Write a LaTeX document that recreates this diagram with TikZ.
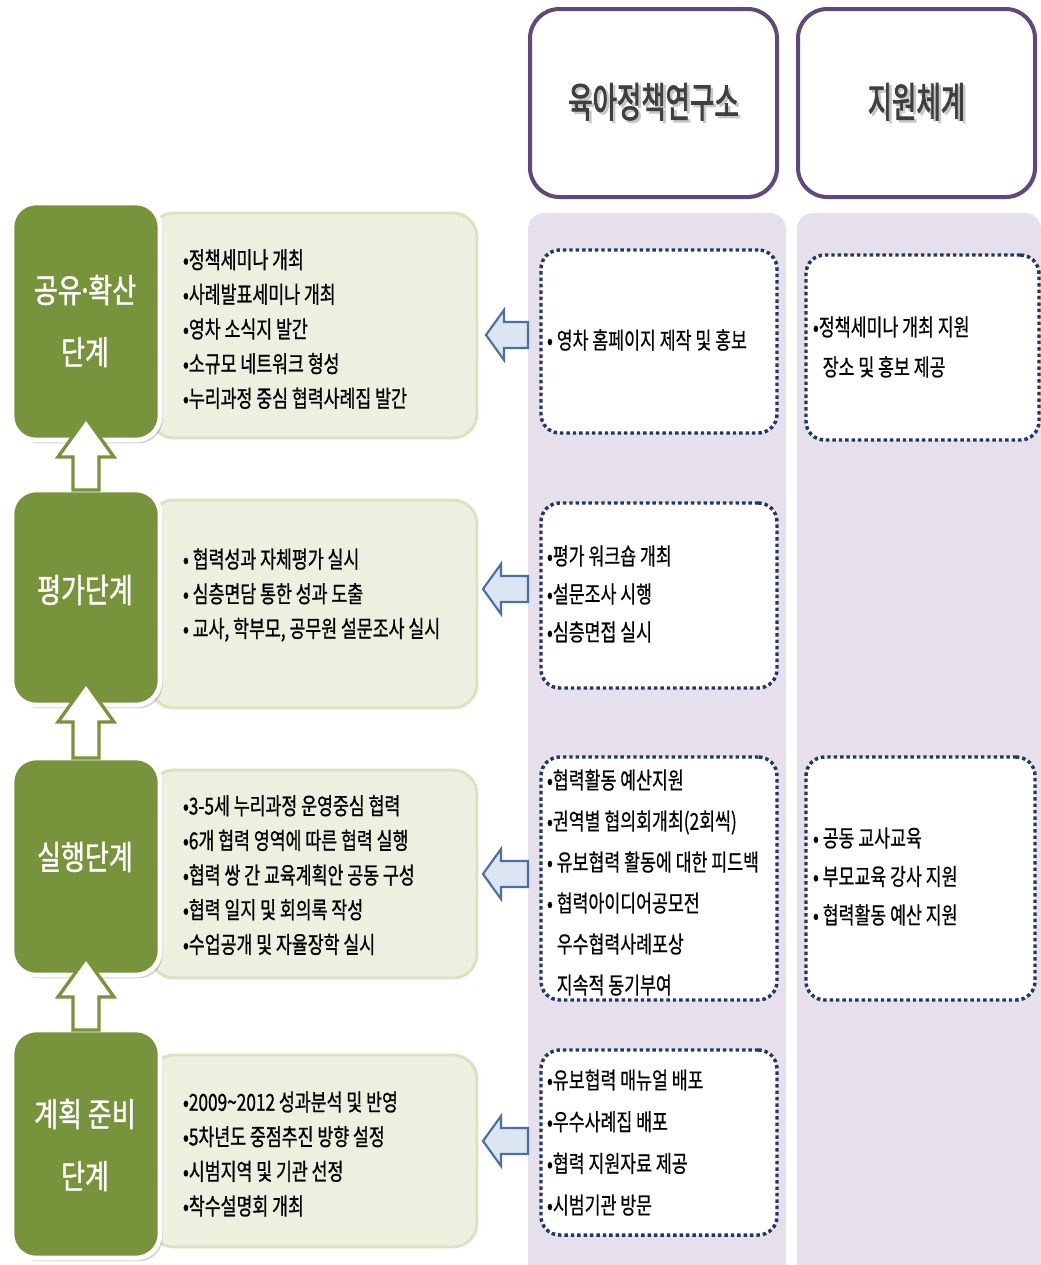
\documentclass[tikz,border=0pt]{standalone}
\usepackage{fontspec}
\setmainfont{Noto Sans CJK KR}
\newfontfamily\krItem[FakeStretch=0.74,FakeBold=0.9]{Noto Sans CJK KR}
\newfontfamily\krDot[FakeStretch=0.74,FakeBold=0.6]{Noto Sans CJK KR}
\newfontfamily\krStage[FakeStretch=0.78,FakeBold=1.2]{Noto Sans CJK KR}
\newfontfamily\krHead[FakeStretch=0.64,FakeBold=2]{Noto Sans CJK KR}
\usetikzlibrary{shadows,calc}
\definecolor{stagegreen}{HTML}{77933C}
\definecolor{lightgreen}{HTML}{EBF1DE}
\definecolor{lightgreenline}{HTML}{D7E4BD}
\definecolor{lavender}{HTML}{E5E0EC}
\definecolor{headpurple}{HTML}{5F497A}
\definecolor{dotnavy}{HTML}{1F3864}
\definecolor{arrowfill}{HTML}{DCE6F2}
\definecolor{arrowline}{HTML}{4A6FA0}
\definecolor{headtext}{HTML}{3F3F3F}
\newcommand{\shadowed}[1]{\makebox[0pt][l]{\hspace{1.9pt}\raisebox{-1.9pt}{\textcolor{black!22}{#1}}}#1}
\begin{document}
\begin{tikzpicture}[x=0.75pt,y=-0.75pt,
  every node/.style={inner sep=0pt,outer sep=0pt},
  colbox/.style={fill=lavender,rounded corners=12pt,minimum width=#1,minimum height=815.25pt},
  headbox/.style={draw=headpurple,line width=3pt,fill=white,rounded corners=22pt,
    minimum width=#1,minimum height=141pt,
    drop shadow={shadow xshift=1.5pt,shadow yshift=-1.5pt,opacity=0.25}},
  headtxt/.style={font=\krHead\fontsize{31}{36}\selectfont,text=headtext},
  greenbox/.style={fill=lightgreen,draw=lightgreenline,line width=2.2pt,rounded corners=18pt,
    minimum width=245.25pt,minimum height=#1},
  stagebox/.style={fill=stagegreen,draw=white,line width=3.5pt,rounded corners=18pt,
    minimum width=111pt,minimum height=#1,
    drop shadow={shadow xshift=2pt,shadow yshift=-2.5pt,opacity=0.35}},
  stagetext/.style={align=center,text=white,font=\krStage\fontsize{25}{46.5}\selectfont},
  dotbox/.style 2 args={fill=white,draw=dotnavy,line width=2.6pt,dash pattern=on 2.6pt off 2.2pt,
    rounded corners=14pt,minimum width=#1,minimum height=#2},
  itemtext/.style={align=left,anchor=west,text=black,font=\krItem\fontsize{17.5}{26}\selectfont},
  dottext/.style={align=left,anchor=west,text=black,font=\krDot\fontsize{17.5}{#1}\selectfont},
  uparrow/.style={draw=stagegreen,fill=white,line width=2.5pt,line join=miter},
  leftarrow/.style={draw=arrowline,fill=arrowfill,line width=1.6pt,line join=miter}
]
\useasboundingbox (0,0) rectangle (1041,1265);
\clip (0,0) rectangle (1041,1265);

% column backgrounds
\node[colbox=193.5pt] (c1) at (657,756.5) {};
\node[colbox=183pt] (c2) at (919,756.5) {};

% headers
\node[headbox=185.25pt] (h1) at (653.5,103) {};
\node[headbox=177.75pt] (h2) at (916.5,103) {};
\node[headtxt] (h1t) at (h1) {\shadowed{육아정책연구소}};
\node[headtxt] (h2t) at (h2) {\shadowed{지원체계}};

% light green content boxes
\node[greenbox=168.75pt] (g1) at (313.5,325.5) {};
\node[greenbox=156pt] (g2) at (313.5,604) {};
\node[greenbox=156pt] (g3) at (313.5,874) {};
\node[greenbox=144pt] (g4) at (313.5,1151) {};

% stage boxes
\node[stagebox=177.75pt] (s1) at (86,321.5) {};
\node[stagebox=161.25pt] (s2) at (86,597.5) {};
\node[stagebox=162.75pt] (s3) at (86,866.5) {};
\node[stagebox=171pt] (s4) at (86,1144) {};

\node[stagetext] (s1t) at (85,321) {공유\kern-0.12em·\kern-0.12em확산\\단계};
\node[stagetext] (s2t) at (85,590) {평가단계};
\node[stagetext] (s3t) at (85,857) {실행단계};
\node[stagetext] (s4t) at (85,1145) {계획 준비\\단계};

% up arrows between stages
\coordinate (u1) at ($(s2.north)+(0,-72)$);
\coordinate (u2) at ($(s3.north)+(0,-75)$);
\coordinate (u3) at ($(s4.north)+(0,-72)$);
\draw[uparrow] (u1) -- ++(28,39) -- ++(-15,0) -- ($(s2.north)+(13,0)$) -- ($(s2.north)+(-13,0)$) -- ($(u1)+(-13,39)$) -- ++(-15,0) -- cycle;
\draw[uparrow] (u2) -- ++(28,39) -- ++(-15,0) -- ($(s3.north)+(13,0)$) -- ($(s3.north)+(-13,0)$) -- ($(u2)+(-13,39)$) -- ++(-15,0) -- cycle;
\draw[uparrow] (u3) -- ++(28,39) -- ++(-15,0) -- ($(s4.north)+(13,0)$) -- ($(s4.north)+(-13,0)$) -- ($(u3)+(-13,39)$) -- ++(-15,0) -- cycle;

% green box texts
\node[itemtext] (g1t) at (183,329) {•정책세미나 개최\\•사례발표세미나 개최\\•영차 소식지 발간\\•소규모 네트워크 형성\\•누리과정 중심 협력사례집 발간};
\node[itemtext] (g2t) at (183,595) {• 협력성과 자체평가 실시\\• 심층면담 통한 성과 도출\\• 교사, 학부모, 공무원 설문조사 실시};
\node[itemtext] (g3t) at (183,875) {•3-5세 누리과정 운영중심 협력\\•6개 협력 영역에 따른 협력 실행\\•협력 쌍 간 교육계획안 공동 구성\\•협력 일지 및 회의록 작성\\•수업공개 및 자율장학 실시};
\node[itemtext] (g4t) at (183,1154) {•2009\textasciitilde2012 성과분석 및 반영\\•5차년도 중점추진 방향 설정\\•시범지역 및 기관 선정\\•착수설명회 개최};

% dotted boxes, column 1
\node[dotbox={177pt}{137.25pt}] (d1) at (659,341.5) {};
\node[dotbox={177pt}{138.75pt}] (d2) at (659,595.5) {};
\node[dotbox={177pt}{182.25pt}] (d3) at (659,878.5) {};
\node[dotbox={177pt}{138.75pt}] (d4) at (659,1142.5) {};
% dotted boxes, column 2
\node[dotbox={174.75pt}{138.75pt}] (e1) at (922.5,347.5) {};
\node[dotbox={171.75pt}{182.25pt}] (e3) at (920.5,878.5) {};

\node[dottext=29pt] (d1t) at (547,340) {• 영차 홈페이지 제작 및 홍보};
\node[dottext=28.5pt] (d2t) at (547,594) {•평가 워크숍 개최\\•설문조사 시행\\•심층면접 실시};
\node[dottext=30.75pt] (d3t) at (547,882.5) {•협력활동 예산지원\\•권역별 협의회개최(2회씩)\\• 유보협력 활동에 대한 피드백\\• 협력아이디어공모전\\\hphantom{• }우수협력사례포상\\\hphantom{• }지속적 동기부여};
\node[dottext=31.25pt] (d4t) at (547,1142.5) {•유보협력 매뉴얼 배포\\•우수사례집 배포\\•협력 지원자료 제공\\•시범기관 방문};
\node[dottext=30pt] (e1t) at (813,347) {•정책세미나 개최 지원\\\hphantom{•} 장소 및 홍보 제공};
\node[dottext=28.9pt] (e3t) at (813,876.5) {• 공동 교사교육\\• 부모교육 강사 지원\\• 협력활동 예산 지원};

% left arrows from column 1 to stage content
\coordinate (l1) at ($(g1.east)+(9,9.5)$);
\coordinate (l2) at ($(g2.east)+(6,-15)$);
\coordinate (l3) at ($(g3.east)+(6,0)$);
\coordinate (l4) at ($(g4.east)+(6,-10)$);
\foreach \a in {l1,l2,l3,l4}{
  \draw[leftarrow] (\a) -- ++(18,-25) -- ++(0,12) -- ($(c1.west |- \a)+(0,-13)$) -- ($(c1.west |- \a)+(0,13)$) -- ($(\a)+(18,13)$) -- ++(0,12) -- cycle;
}
\end{tikzpicture}
\end{document}
